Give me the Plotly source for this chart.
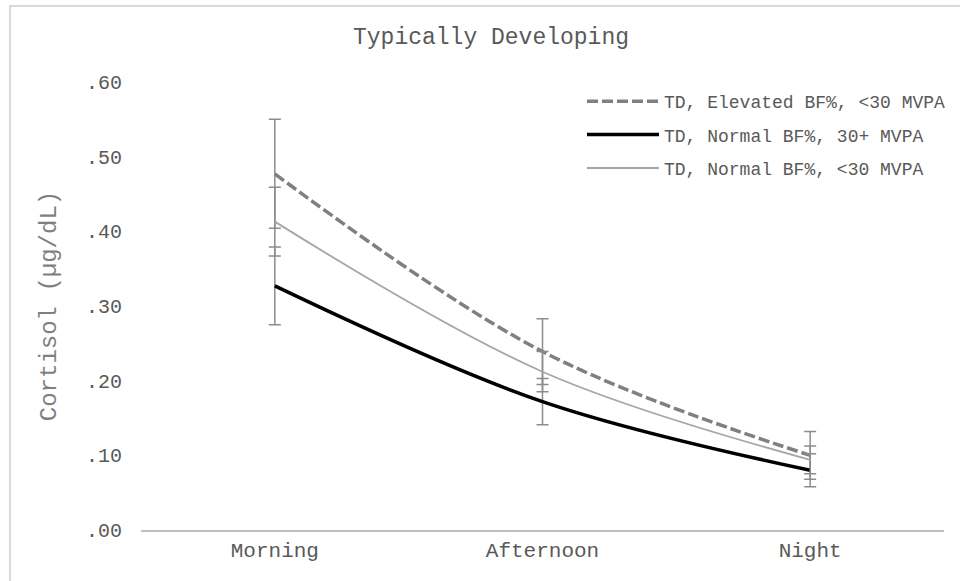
import plotly.graph_objects as go

# Cortisol by time of day, typically developing group
times = ["Morning", "Afternoon", "Night"]

elev_lowpa = [0.477, 0.239, 0.100]
elev_lowpa_err = [0.073, 0.044, 0.032]

norm_highpa = [0.327, 0.172, 0.080]
norm_highpa_err = [0.052, 0.031, 0.022]

norm_lowpa = [0.413, 0.212, 0.094]
norm_lowpa_err = [0.046, 0.027, 0.0185]

y_ticks = [0.0, 0.1, 0.2, 0.3, 0.4, 0.5, 0.6]
y_tick_labels = [".00", ".10", ".20", ".30", ".40", ".50", ".60"]

FONT = "Liberation Mono, Courier New, monospace"
ERR_COLOR = "#8c8c8c"


def err(values):
    return dict(type="data", array=values, visible=True,
                color=ERR_COLOR, thickness=1.5, width=6)


fig = go.Figure()

fig.add_trace(go.Scatter(
    x=times, y=elev_lowpa, name="TD, Elevated BF%, <30 MVPA",
    mode="lines", line=dict(color="#808080", width=3.5, dash="11px,4px", shape="spline"),
    error_y=err(elev_lowpa_err), legendgroup="a",
))
fig.add_trace(go.Scatter(
    x=times, y=norm_highpa, name="TD, Normal BF%, 30+ MVPA",
    mode="lines", line=dict(color="#000000", width=3.5, shape="spline"),
    error_y=err(norm_highpa_err), legendgroup="b",
))
fig.add_trace(go.Scatter(
    x=times, y=norm_lowpa, name="TD, Normal BF%, <30 MVPA",
    mode="lines", line=dict(color="#a6a6a6", width=1.8, shape="spline"),
    error_y=err(norm_lowpa_err), legendgroup="c",
))

# outer frame of the chart area
fig.add_shape(type="rect", xref="paper", yref="paper",
              x0=(10 - 141) / 803, x1=(975 - 141) / 803,
              y0=(530 - 595) / 448, y1=(530 - 6) / 448,
              line=dict(color="#d9d9d9", width=2), fillcolor="rgba(0,0,0,0)")

fig.update_layout(
    width=960, height=581,
    margin=dict(l=141, r=16, t=82, b=51, autoexpand=False),
    paper_bgcolor="white", plot_bgcolor="white",
    font=dict(family=FONT, color="#595959"),
    title=dict(text="Typically Developing", x=491 / 960, xref="container", xanchor="center",
               y=1 - 36 / 581, yanchor="middle",
               font=dict(family=FONT, size=23, color="#595959")),
    legend=dict(x=(582 - 141) / 803, y=(530 - 83) / 448, xanchor="left", yanchor="top",
                font=dict(family=FONT, size=18, color="#595959"),
                itemwidth=72, tracegroupgap=7, traceorder="grouped",
                bgcolor="rgba(0,0,0,0)"),
    showlegend=True,
)

fig.update_xaxes(
    range=[-0.5, 2.5], showgrid=False, zeroline=False,
    showline=True, linecolor="#bfbfbf", linewidth=1.5,
    ticks="", tickfont=dict(family=FONT, size=21, color="#595959"),
)
fig.update_yaxes(
    range=[0, 0.6], showgrid=False, zeroline=False, showline=False,
    tickvals=y_ticks, ticktext=y_tick_labels, ticks="",
    tickfont=dict(family=FONT, size=20, color="#595959"),
    ticklabelstandoff=18,
    title=dict(text="Cortisol (µg/dL)", standoff=22,
               font=dict(family=FONT, size=24, color="#7f7f7f")),
)

fig.write_html("out.html")
